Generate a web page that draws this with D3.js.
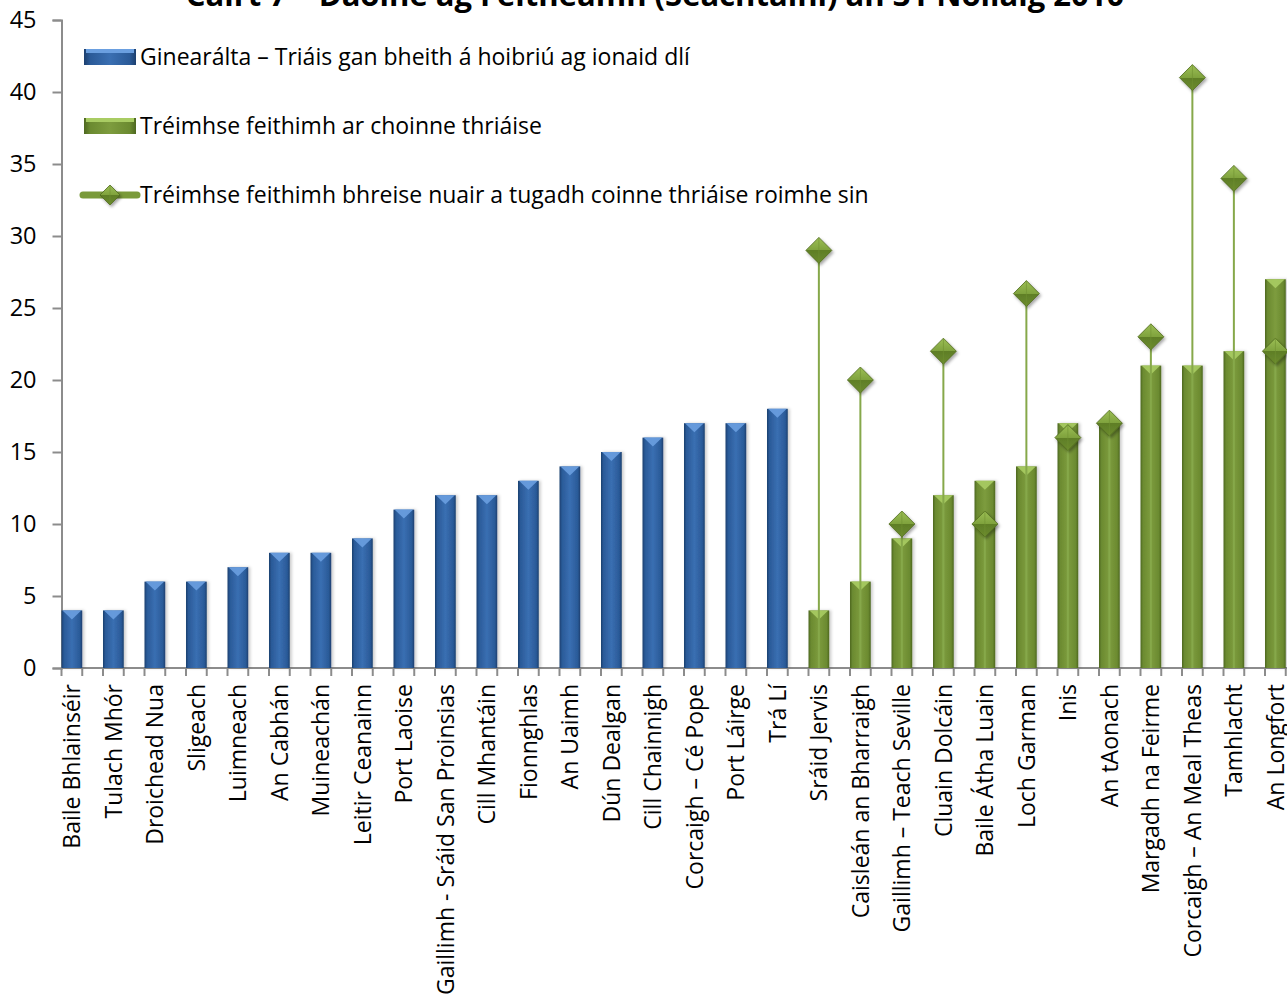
<!DOCTYPE html>
<html>
<head>
<meta charset="utf-8">
<script src="https://cdn.jsdelivr.net/npm/d3@7"></script>
<style>
  html, body { margin: 0; padding: 0; background: #fff; }
  svg { display: block; font-family: "Open Sans", Lato, sans-serif; }
</style>
</head>
<body>
<svg id="chart" width="1287" height="996"></svg>
<script>
const title = "Cairt 7 – Daoine ag Feitheamh (Seachtainí) an 31 Nollaig 2010";

const categories = [
  "Baile Bhlainséir", "Tulach Mhór", "Droichead Nua", "Sligeach", "Luimneach",
  "An Cabhán", "Muineachán", "Leitir Ceanainn", "Port Laoise",
  "Gaillimh - Sráid San Proinsias", "Cill Mhantáin", "Fionnghlas", "An Uaimh",
  "Dún Dealgan", "Cill Chainnigh", "Corcaigh – Cé Pope", "Port Láirge", "Trá Lí",
  "Sráid Jervis", "Caisleán an Bharraigh", "Gaillimh – Teach Seville",
  "Cluain Dolcáin", "Baile Átha Luain", "Loch Garman", "Inis", "An tAonach",
  "Margadh na Feirme", "Corcaigh – An Meal Theas", "Tamhlacht", "An Longfort"
];

// Ginearálta – general (blue) ; null where not applicable
const generalValues = [4, 4, 6, 6, 7, 8, 8, 9, 11, 12, 12, 13, 14, 15, 16, 17, 17, 18,
  null, null, null, null, null, null, null, null, null, null, null, null];

// Tréimhse feithimh ar choinne thriáise (green bars)
const triageValues = [null, null, null, null, null, null, null, null, null, null, null, null,
  null, null, null, null, null, null,
  4, 6, 9, 12, 13, 14, 17, 17, 21, 21, 22, 27];

// Tréimhse feithimh bhreise ... (diamonds with drop lines)
const extraValues = [null, null, null, null, null, null, null, null, null, null, null, null,
  null, null, null, null, null, null,
  29, 20, 10, 22, 10, 26, 16, 17, 23, 41, 34, 22];

const yTicks = [0, 5, 10, 15, 20, 25, 30, 35, 40, 45];

const legendLabels = [
  "Ginearálta – Triáis gan bheith á hoibriú ag ionaid dlí",
  "Tréimhse feithimh ar choinne thriáise",
  "Tréimhse feithimh bhreise nuair a tugadh coinne thriáise roimhe sin"
];

const svg = d3.select("#chart");
const defs = svg.append("defs");

function hGrad(id, stops) {
  const g = defs.append("linearGradient").attr("id", id)
    .attr("x1", "0%").attr("x2", "100%").attr("y1", "0%").attr("y2", "0%");
  stops.forEach(([o, c]) => g.append("stop").attr("offset", o).attr("stop-color", c));
}
hGrad("blueGrad", [["0%", "#1c3f6e"], ["12%", "#2a5a98"], ["50%", "#3a6fb2"], ["88%", "#2a5a98"], ["100%", "#1c3f6e"]]);
hGrad("greenGrad", [["0%", "#4d6720"], ["12%", "#6b8a30"], ["50%", "#7d9c3e"], ["88%", "#6b8a30"], ["100%", "#4d6720"]]);

const dg = defs.append("linearGradient").attr("id", "diamondGrad")
  .attr("x1", "0%").attr("x2", "0%").attr("y1", "0%").attr("y2", "100%");
dg.append("stop").attr("offset", "0%").attr("stop-color", "#9cbf55");
dg.append("stop").attr("offset", "50%").attr("stop-color", "#7fa23d");
dg.append("stop").attr("offset", "50%").attr("stop-color", "#5f7e27");
dg.append("stop").attr("offset", "100%").attr("stop-color", "#6b8b2e");

const shadow = defs.append("filter").attr("id", "shadow")
  .attr("x", "-30%").attr("y", "-30%").attr("width", "160%").attr("height", "160%");
shadow.append("feDropShadow").attr("dx", 1.5).attr("dy", 2).attr("stdDeviation", 1.5)
  .attr("flood-color", "#000").attr("flood-opacity", 0.35);

const barShadow = defs.append("filter").attr("id", "barShadow")
  .attr("x", "-20%").attr("y", "-5%").attr("width", "150%").attr("height", "110%");
barShadow.append("feDropShadow").attr("dx", 2).attr("dy", 0).attr("stdDeviation", 1.5)
  .attr("flood-color", "#000").attr("flood-opacity", 0.2);

// Scales
const x = d3.scaleBand().domain(categories).range([61.5, 61.5 + 41.5 * categories.length]).padding(0);
const y = d3.scaleLinear().domain([0, 45]).range([668, 20]);
const barW = x.bandwidth() / 2;
const cx = c => x(c) + barW / 2;

// Title
svg.append("text")
  .attr("x", 655).attr("y", 6)
  .attr("text-anchor", "middle")
  .attr("font-weight", "bold")
  .attr("font-size", 31)
  .attr("fill", "#000")
  .text(title);

// Axes
const axisColor = "#8c8c8c";
const yAxis = d3.axisLeft(y).tickValues(yTicks).tickSize(9).tickPadding(16);
const gy = svg.append("g").attr("transform", "translate(61.5,0)").call(yAxis);
gy.select(".domain").attr("stroke", axisColor).attr("stroke-width", 2);
gy.selectAll(".tick line").attr("stroke", axisColor).attr("stroke-width", 2);
gy.selectAll(".tick text").attr("font-size", 23.5).attr("fill", "#000")
  .attr("font-family", "'Open Sans', Lato, sans-serif");

// x axis line + half-band ticks
const xAxisG = svg.append("g");
xAxisG.append("line")
  .attr("x1", 61.5).attr("x2", 1287).attr("y1", y(0)).attr("y2", y(0))
  .attr("stroke", axisColor).attr("stroke-width", 2);
const tickPos = [];
categories.forEach(c => { tickPos.push(x(c)); tickPos.push(x(c) + barW); });
xAxisG.selectAll("line.t").data(tickPos).join("line").attr("class", "t")
  .attr("x1", d => d).attr("x2", d => d)
  .attr("y1", y(0)).attr("y2", y(0) + 8)
  .attr("stroke", axisColor).attr("stroke-width", 2);

// Category labels
svg.append("g").selectAll("text").data(categories).join("text")
  .attr("transform", d => `translate(${cx(d)},684) rotate(-90)`)
  .attr("text-anchor", "end")
  .attr("dy", "0.36em")
  .attr("font-size", 23)
  .attr("fill", "#000")
  .text(d => d);

// Bars
function drawBars(values, grad, topColor, cls) {
  const data = categories.map((c, i) => ({ c, v: values[i] })).filter(d => d.v != null);
  const g = svg.append("g").attr("class", cls);
  g.selectAll("rect").data(data).join("rect")
    .attr("x", d => x(d.c)).attr("width", barW)
    .attr("y", d => y(d.v)).attr("height", d => y(0) - y(d.v))
    .attr("fill", `url(#${grad})`)
    .attr("filter", "url(#barShadow)");
  g.selectAll("path").data(data).join("path")
    .attr("d", d => {
      const x0 = x(d.c), x1 = x0 + barW, yt = y(d.v);
      return `M${x0 + 1},${yt} L${x1 - 1},${yt} L${(x0 + x1) / 2},${yt + 9} Z`;
    })
    .attr("fill", topColor).attr("opacity", 0.9);
}
drawBars(generalValues, "blueGrad", "#6a9fe0", "general");
drawBars(triageValues, "greenGrad", "#a9cc63", "triage");

// Drop lines and diamonds
const extraData = categories.map((c, i) => ({ c, v: extraValues[i] })).filter(d => d.v != null);
svg.append("g").selectAll("line").data(extraData).join("line")
  .attr("x1", d => cx(d.c)).attr("x2", d => cx(d.c))
  .attr("y1", d => y(d.v)).attr("y2", y(0))
  .attr("stroke", "#86a84a").attr("stroke-width", 2);

function diamond(sel, r) {
  sel.append("path")
    .attr("d", `M0,${-r} L${r},0 L0,${r} L${-r},0 Z`)
    .attr("fill", "url(#diamondGrad)")
    .attr("stroke", "#4f6a1e").attr("stroke-width", 0.8)
    .attr("filter", "url(#shadow)");
  sel.append("path")
    .attr("d", `M0,${-r} L0,${r}`)
    .attr("stroke", "#6f9030").attr("stroke-width", 1).attr("opacity", 0.6);
}
svg.append("g").selectAll("g").data(extraData).join("g")
  .attr("transform", d => `translate(${cx(d.c)},${y(d.v)})`)
  .each(function () { diamond(d3.select(this), 13); });

// Legend
const lg = svg.append("g");
const legY = [57, 126, 195];
lg.append("rect").attr("x", 84).attr("y", legY[0] - 8).attr("width", 52).attr("height", 16)
  .attr("fill", "url(#blueGrad)");
lg.append("rect").attr("x", 86).attr("y", legY[0] - 8).attr("width", 48).attr("height", 4)
  .attr("fill", "#6a9fe0");
lg.append("rect").attr("x", 84).attr("y", legY[1] - 8).attr("width", 52).attr("height", 16)
  .attr("fill", "url(#greenGrad)");
lg.append("rect").attr("x", 86).attr("y", legY[1] - 8).attr("width", 48).attr("height", 4)
  .attr("fill", "#a9cc63");
lg.append("line").attr("x1", 83).attr("x2", 137).attr("y1", legY[2]).attr("y2", legY[2])
  .attr("stroke", "#7a9a3a").attr("stroke-width", 7).attr("stroke-linecap", "round");
lg.append("g").attr("transform", `translate(110,${legY[2]})`).call(s => diamond(s, 10));
lg.selectAll("text").data(legendLabels).join("text")
  .attr("x", 140).attr("y", (d, i) => legY[i])
  .attr("dy", "0.36em")
  .attr("font-size", 23)
  .attr("fill", "#000")
  .text(d => d);
</script>
</body>
</html>
